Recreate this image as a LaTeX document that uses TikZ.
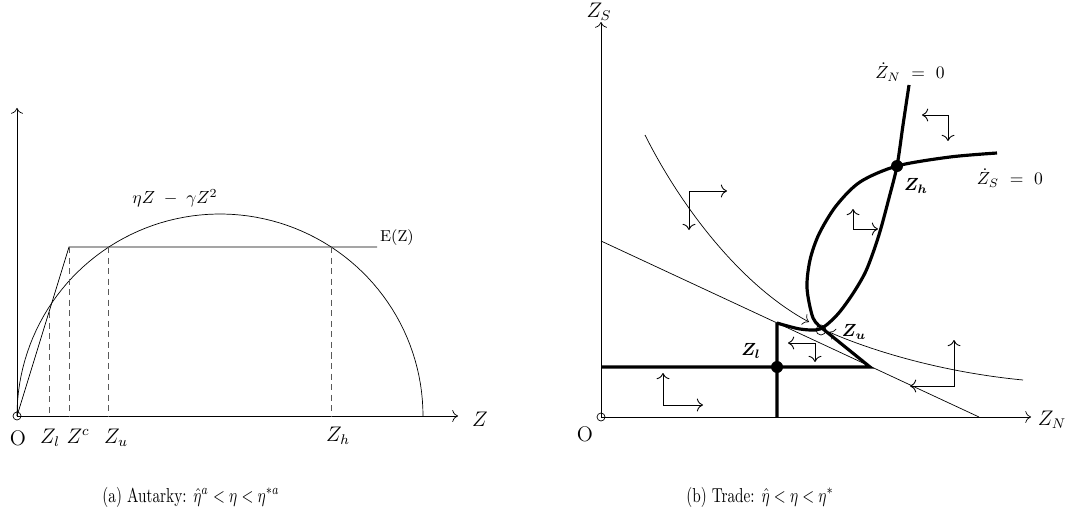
\documentclass[tikz,border=0pt]{standalone}
\usepackage{amsmath}
\usetikzlibrary{arrows.meta}

\begin{document}
\begin{tikzpicture}[>={To[scale=1.3]},x=0.02cm,y=-0.02cm,
  locus/.style={line width=1.8pt},
  guide/.style={gray!70!black,dash pattern=on 3.5pt off 2.5pt},
  phase/.style={<->,line width=0.5pt},
  axlabel/.style={font=\large},
  caption/.style={xscale=0.87,yscale=1.15}]
\useasboundingbox (0,0) rectangle (1077,520);
% (a) autarky, pixel units with y pointing down
\coordinate (OA) at (17,416);
\coordinate (YA) at (17,108);
\coordinate (XA) at (458,416);
\coordinate (Ek) at (69,247);
\coordinate (Ee) at (377,247);
\draw[->] (OA) -- (YA);
\draw[->] (OA) -- (XA);
\draw (OA) circle[radius=4];
\draw (OA) -- (Ek) -- (Ee);
\draw plot[domain=180:0,samples=80] ({220+203*cos(\x)},{416-202*sin(\x)});
\draw[guide] (49,312) -- (49,416);
\draw[guide] (Ek) -- (69,416);
\draw[guide] (108,247) -- (108,416);
\draw[guide] (331,247) -- (331,416);
\node[axlabel] (oA) at (18,438) {O};
\node[axlabel] (zl) at (50,438) {$Z_l$};
\node[axlabel] (zc) at (78,436) {$Z^c$};
\node[axlabel] (zu) at (116,438) {$Z_u$};
\node[axlabel] (zh) at (338,436) {$Z_h$};
\node[axlabel] (zax) at (480,419) {$Z$};
\node[font=\small] (ez) at (397,238) {E(Z)};
\node (fz) at (175,198) {$\eta Z\;-\;\gamma Z^2$};
\node[caption] (capA) at (191,497) {(a) Autarky: $\hat{\eta}^a<\eta<\eta^{*a}$};

% (b) trade
\coordinate (OB) at (601,417);
\coordinate (YB) at (601,22);
\coordinate (XB) at (1031,417);
\coordinate (Zl) at (777,367);
\coordinate (Zh) at (897,166);
\coordinate (Zu) at (821,330);
\draw[->] (OB) -- (YB);
\draw[->] (OB) -- (XB);
\draw (OB) circle[radius=4];
\draw (601,241) -- (979,417);
% stable arms into Zu
\draw[->] (645,135) .. controls (680,205) and (740,285) .. (809,322);
\draw[->] (1023,380) .. controls (940,372) and (870,350) .. (829,332);
% dZ_N = 0
\draw[locus] (777,417) -- (777,323) plot[smooth] coordinates {(777,323) (800,329) (820,329) (837,315) (852,295) (865,273) (874,250) (881,228) (889,198) (897,166) (903,125) (909,85)};
% dZ_S = 0
\draw[locus] (601,367) -- (870,367) -- (823,329) plot[smooth] coordinates {(823,329) (813,318) (807,288) (810,260) (819,234) (836,206) (860,182) (897,166) (950,157) (997,153)};
\draw (Zu) circle[radius=5];
\fill (Zl) circle[radius=6];
\fill (Zh) circle[radius=6];
% phase arrows
\draw[phase] (689,230) |- (727,191);
\draw[phase] (948,141) |- (922,115);
\draw[phase] (853,209) |- (878,229);
\draw[phase] (815,362) |- (788,343);
\draw[phase] (954,340) |- (910,386);
\draw[phase] (663,373) |- (703,405);
\node[axlabel] (zs) at (599,12) {$Z_S$};
\node[axlabel] (zn) at (1052,420) {$Z_N$};
\node[axlabel] (oB) at (585,434) {O};
\node (znd) at (910,72) {$\dot Z_N\ =\ 0$};
\node (zsd) at (1010,178) {$\dot Z_S\ =\ 0$};
\node (lh) at (916,186) {$\boldsymbol{Z_h}$};
\node (ll) at (751,351) {$\boldsymbol{Z_l}$};
\node (lu) at (854,332) {$\boldsymbol{Z_u}$};
\node[caption] (capB) at (760,497) {(b) Trade: $\hat{\eta}<\eta<\eta^*$};
\end{tikzpicture}
\end{document}
